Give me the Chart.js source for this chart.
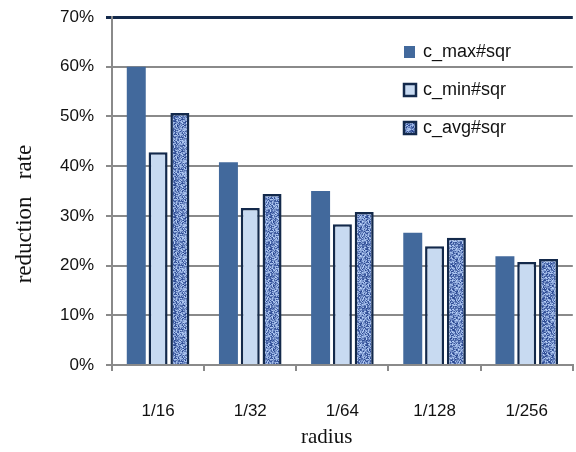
<!DOCTYPE html>
<html>
<head>
<meta charset="utf-8">
<script src="https://cdn.jsdelivr.net/npm/chart.js@4.4.1/dist/chart.umd.min.js"></script>
<style>
  html, body { margin: 0; padding: 0; background: #fff; overflow: hidden; }
  #wrap { width: 578px; height: 452px; }
</style>
</head>
<body>
<div id="wrap"><canvas id="c"></canvas></div>
<script>
const radii = ['1/16', '1/32', '1/64', '1/128', '1/256'];
const cMax = [60.0, 40.8, 35.0, 26.6, 21.9];
const cMin = [42.8, 31.6, 28.3, 23.9, 20.7];
const cAvg = [50.7, 34.4, 30.8, 25.6, 21.3];

// mottled blue fill for the avg bars
function mottle() {
    const s = 32;
    const src = document.createElement('canvas');
    src.width = s; src.height = s;
    const g = src.getContext('2d');
    for (let y = 0; y < s; y++) {
        for (let x = 0; x < s; x++) {
            let h = (x * 374761393 + y * 668265263) | 0;
            h = Math.imul(h ^ (h >>> 13), 1274126177);
            h = (h ^ (h >>> 16)) >>> 0;
            const t = (h % 1000) / 1000;
            g.fillStyle = `rgb(${Math.round(35 + t * 150)},${Math.round(65 + t * 145)},${Math.round(140 + t * 110)})`;
            g.fillRect(x, y, 1, 1);
        }
    }
    const out = document.createElement('canvas');
    out.width = s; out.height = s;
    const o = out.getContext('2d');
    o.filter = 'blur(0.7px)';
    // draw shifted copies so the blur wraps round the tile edges
    for (const dx of [-s, 0, s]) for (const dy of [-s, 0, s]) o.drawImage(src, dx, dy);
    return o.createPattern(out, 'repeat');
}

const font = { family: '"Liberation Sans", Arial, sans-serif', size: 17 };
const serif = '"Liberation Serif", "Times New Roman", serif';

// legend drawn inside the plot area, top right
const insideLegend = {
    id: 'insideLegend',
    afterDraw(chart) {
        const ctx = chart.ctx;
        const x = 404, ys = [52, 90, 128];
        ctx.save();
        ctx.font = `18px ${font.family}`;
        ctx.textBaseline = 'middle';
        chart.data.datasets.forEach((ds, i) => {
            const y = ys[i];
            ctx.fillStyle = ds.backgroundColor;
            if (ds.borderWidth) {
                ctx.fillRect(x, y - 6, 12, 12);
                ctx.lineWidth = 2.5;
                ctx.strokeStyle = ds.borderColor;
                ctx.strokeRect(x, y - 6, 12, 12);
            } else {
                ctx.fillRect(x, y - 6, 11, 12);
            }
            ctx.fillStyle = '#111';
            ctx.fillText(ds.label, x + 19, y);
        });
        ctx.restore();
    }
};

new Chart(document.getElementById('c'), {
    type: 'bar',
    data: {
        labels: radii,
        datasets: [
            { label: 'c_max#sqr', data: cMax, backgroundColor: '#42699c', borderWidth: 0 },
            { label: 'c_min#sqr', data: cMin, backgroundColor: '#c8daf1', borderColor: '#13294b', borderWidth: 2.5 },
            { label: 'c_avg#sqr', data: cAvg, backgroundColor: mottle(), borderColor: '#13294b', borderWidth: 2.5 }
        ]
    },
    plugins: [insideLegend],
    options: {
        responsive: true,
        maintainAspectRatio: false,
        animation: false,
        layout: { padding: { top: 17, right: 0, left: 0, bottom: 0 } },
        datasets: { bar: { categoryPercentage: 0.71, barPercentage: 0.87 } },
        plugins: { legend: { display: false }, tooltip: { enabled: false } },
        scales: {
            x: {
                grid: { offset: true, drawOnChartArea: false, drawTicks: true, tickLength: 6, color: '#8a8a8a', lineWidth: 2 },
                border: { color: '#8a8a8a', width: 2 },
                ticks: { color: '#111', font, padding: 30 },
                // trailing spaces pull the centred title a little left
                title: { display: true, text: 'radius      ', color: '#111', font: { family: serif, size: 21 }, padding: { top: 4, bottom: 2 } },
                afterFit: (s) => { s.height = 87; }
            },
            y: {
                min: 0, max: 70,
                ticks: { stepSize: 10, color: '#111', font, padding: 12, callback: v => v + '%' },
                grid: {
                    tickLength: 6,
                    color: c => c.tick && c.tick.value === 70 ? '#13294b' : '#8a8a8a',
                    lineWidth: c => c.tick && c.tick.value === 70 ? 3 : 2
                },
                border: { color: '#8a8a8a', width: 2 },
                // trailing spaces push the rotated title down the axis
                title: { display: true, text: 'reduction   rate        ', color: '#111', font: { family: serif, size: 23 }, padding: { top: 11, bottom: 0 } },
                afterFit: (s) => { s.width = 112; s.paddingTop = 0; s.paddingBottom = 0; }
            }
        }
    }
});
</script>
</body>
</html>
